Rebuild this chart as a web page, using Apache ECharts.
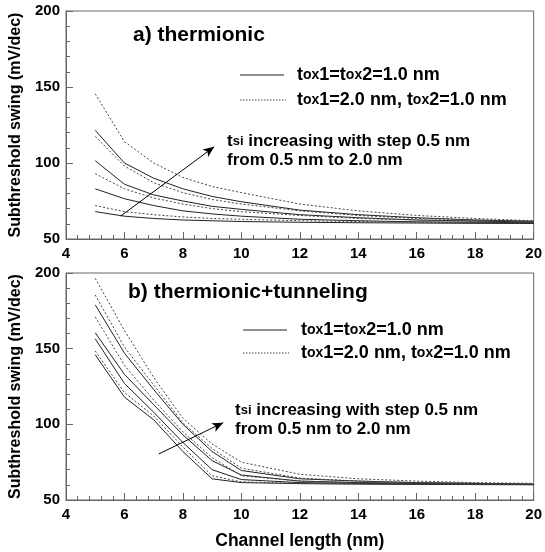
<!DOCTYPE html>
<html><head><meta charset="utf-8">
<script src="https://cdn.jsdelivr.net/npm/echarts@6/dist/echarts.min.js"></script>
<style>html,body{margin:0;padding:0;background:#fff}#c{width:545px;height:552px}</style>
</head><body><div id="c"></div>
<script>
const xs = [5, 6, 7, 8, 9, 10, 12, 14, 16, 18, 20];
const tsiLabels = ['0.5', '1.0', '1.5', '2.0'];
// a) thermionic
const aSolid05 = [68, 65, 63.5, 62.5, 62, 61.5, 61, 60.7, 60.5, 60.3, 60.2];
const aSolid10 = [83, 76.5, 72, 68.5, 66.5, 65, 63, 62, 61.3, 61, 60.7];
const aSolid15 = [101.5, 86, 79, 75, 71.5, 69.5, 66, 64, 62.5, 61.8, 61.2];
const aSolid20 = [121.5, 100, 90, 83, 78, 74.5, 69, 66, 64, 62.5, 61.7];
const aDot05 = [72, 68, 66, 64.5, 63.5, 63, 62, 61.5, 61, 60.7, 60.5];
const aDot10 = [93, 83, 77, 73, 70, 68, 65.5, 63.5, 62.5, 61.7, 61.2];
const aDot15 = [117.5, 98, 87, 80.5, 76, 73, 68.5, 65.5, 63.5, 62.5, 61.7];
const aDot20 = [145.5, 114, 100, 90.5, 84.5, 80.5, 73, 68.5, 65.5, 63.5, 62];
// b) thermionic+tunneling
const bSolid05 = [146, 118, 103, 82, 64, 61.5, 60.8, 60.5, 60.3, 60.2, 60.1];
const bSolid10 = [156.5, 127, 108, 88, 70, 63.5, 61.5, 61, 60.6, 60.4, 60.2];
const bSolid15 = [160.5, 133, 113, 93, 76, 66.5, 62.5, 61.5, 61, 60.6, 60.3];
const bSolid20 = [179, 147, 123, 100, 82, 69.5, 64, 62.5, 61.5, 61, 60.5];
const bDot05 = [148.5, 121, 105.5, 85, 66, 62, 61, 60.6, 60.4, 60.2, 60.1];
const bDot10 = [171, 139, 116, 95, 78, 66, 62.5, 61.5, 61, 60.6, 60.3];
const bDot15 = [185.5, 151, 126, 101, 84, 71, 64.5, 62.5, 61.5, 61, 60.6];
const bDot20 = [196.5, 162, 131, 104, 87, 75, 67, 64, 62.5, 61.5, 61];
// arrows (data coords)
const arrowA = [[5.87, 65.1], [9.07, 110.7]];
const arrowB = [[7.17, 80.4], [9.38, 101.1]];
const xTicks = {min: 4, max: 20, interval: 2};
const yTicks = {min: 50, max: 200, interval: 50};

const FONT = '"Liberation Sans", Arial, sans-serif';
const chart = echarts.init(document.getElementById('c'), null, {renderer: 'canvas'});

function mkX(idx, showName) {
  return {
    type: 'value', gridIndex: idx, min: xTicks.min, max: xTicks.max, interval: xTicks.interval,
    axisLine: {show: true, lineStyle: {color: '#666', width: 1}},
    axisTick: {show: true, inside: true, length: 7, lineStyle: {color: '#666'}},
    minorTick: {show: true, splitNumber: 5, length: 4, lineStyle: {color: '#666'}},
    splitLine: {show: false},
    axisLabel: {margin: 7, color: '#000', fontSize: 15, fontWeight: 'bold', fontFamily: FONT},
    name: showName ? 'Channel length (nm)' : '', nameLocation: 'middle', nameGap: 32,
    nameTextStyle: {color: '#000', fontSize: 17.5, fontWeight: 'bold', fontFamily: FONT}
  };
}
function mkY(idx) {
  return {
    type: 'value', gridIndex: idx, min: yTicks.min, max: yTicks.max, interval: yTicks.interval,
    axisLine: {show: true, lineStyle: {color: '#666', width: 1}},
    axisTick: {show: true, inside: true, length: 7, lineStyle: {color: '#666'}},
    minorTick: {show: true, splitNumber: 5, length: 4, lineStyle: {color: '#666'}},
    splitLine: {show: false},
    axisLabel: {margin: 6, color: '#000', fontSize: 15, fontWeight: 'bold', fontFamily: FONT},
    name: 'Subthreshold swing (mV/dec)', nameLocation: 'middle', nameGap: 33,
    nameTextStyle: {color: '#000', fontSize: 16, fontWeight: 'bold', fontFamily: FONT}
  };
}
function mkSeries(vals, idx, dotted, name) {
  return {
    type: 'line', name: name, xAxisIndex: idx, yAxisIndex: idx, symbol: 'none', silent: true,
    data: xs.map((x, i) => [x, vals[i]]),
    lineStyle: {color: dotted ? '#444' : '#222', width: 1, type: dotted ? [2, 2] : 'solid'},
    animation: false
  };
}
function arrowSeries(arr, idx) {
  return {
    type: 'line', xAxisIndex: idx, yAxisIndex: idx, symbol: 'none', data: [], silent: true, animation: false,
    markLine: {
      silent: true, symbol: ['none', 'arrow'], symbolSize: [7, 11],
      label: {show: false},
      lineStyle: {color: '#000', width: 1, type: 'solid'},
      data: [[{coord: arr[0]}, {coord: arr[1]}]]
    }
  };
}
const series = [
  mkSeries(aSolid05, 0, false, 'a0.5'), mkSeries(aSolid10, 0, false, 'a1.0'),
  mkSeries(aSolid15, 0, false, 'a1.5'), mkSeries(aSolid20, 0, false, 'a2.0'),
  mkSeries(aDot05, 0, true, 'ad0.5'), mkSeries(aDot10, 0, true, 'ad1.0'),
  mkSeries(aDot15, 0, true, 'ad1.5'), mkSeries(aDot20, 0, true, 'ad2.0'),
  mkSeries(bSolid05, 1, false, 'b0.5'), mkSeries(bSolid10, 1, false, 'b1.0'),
  mkSeries(bSolid15, 1, false, 'b1.5'), mkSeries(bSolid20, 1, false, 'b2.0'),
  mkSeries(bDot05, 1, true, 'bd0.5'), mkSeries(bDot10, 1, true, 'bd1.0'),
  mkSeries(bDot15, 1, true, 'bd1.5'), mkSeries(bDot20, 1, true, 'bd2.0'),
  arrowSeries(arrowA, 0), arrowSeries(arrowB, 1)
];

const richL = {
  n: {fontSize: 18, fontWeight: 'bold', fontFamily: FONT, fill: '#000', color: '#000'},
  s: {fontSize: 14, fontWeight: 'bold', fontFamily: FONT, fill: '#000', color: '#000'}
};
const richA = {
  n: {fontSize: 17, fontWeight: 'bold', fontFamily: FONT, fill: '#000', color: '#000'},
  s: {fontSize: 13, fontWeight: 'bold', fontFamily: FONT, fill: '#000', color: '#000'}
};
function ptext(x, y, str, size) {
  return {type: 'text', x: x, y: y, silent: true,
    style: {text: str, fill: '#000', font: 'bold ' + size + 'px ' + FONT, textAlign: 'left', textVerticalAlign: 'middle'}};
}
function legendGroup(x0, yl1, yl2, tx, textY1, textY2) {
  return [
    {type: 'line', silent: true, shape: {x1: x0, y1: yl1, x2: x0 + 44, y2: yl1}, style: {stroke: '#222', lineWidth: 1}},
    {type: 'line', silent: true, shape: {x1: x0, y1: yl2, x2: x0 + 46, y2: yl2}, style: {stroke: '#444', lineWidth: 1, lineDash: [1.5, 1.5]}},
    {type: 'text', x: tx, y: textY1, silent: true, style: {text: '{n|t}{s|ox}{n|1=t}{s|ox}{n|2=1.0 nm}', rich: richL, textVerticalAlign: 'middle'}},
    {type: 'text', x: tx, y: textY2, silent: true, style: {text: '{n|t}{s|ox}{n|1=2.0 nm, t}{s|ox}{n|2=1.0 nm}', rich: richL, textVerticalAlign: 'middle'}}
  ];
}
const graphic = [].concat(
  [ptext(133, 35, 'a) thermionic', 21)],
  legendGroup(240, 75, 100, 297, 75, 100),
  [{type: 'text', x: 227, y: 141, silent: true, style: {text: '{n|t}{s|si}{n| increasing with step 0.5 nm}', rich: richA, textVerticalAlign: 'middle'}},
   ptext(227, 160, 'from 0.5 nm to 2.0 nm', 17)],
  [ptext(128, 292, 'b) thermionic+tunneling', 21)],
  legendGroup(243, 330, 353, 301, 330, 353),
  [{type: 'text', x: 235, y: 410, silent: true, style: {text: '{n|t}{s|si}{n| increasing with step 0.5 nm}', rich: richA, textVerticalAlign: 'middle'}},
   ptext(235, 429, 'from 0.5 nm to 2.0 nm', 17)]
);

chart.setOption({
  backgroundColor: '#fff',
  animation: false,
  grid: [
    {left: 66, top: 11, width: 475, height: 228, show: true, borderColor: '#666', borderWidth: 1, backgroundColor: 'transparent'},
    {left: 66, top: 273, width: 475, height: 227, show: true, borderColor: '#666', borderWidth: 1, backgroundColor: 'transparent'}
  ],
  xAxis: [mkX(0, false), mkX(1, true)],
  yAxis: [mkY(0), mkY(1)],
  series: series,
  graphic: graphic
});
</script></body></html>
